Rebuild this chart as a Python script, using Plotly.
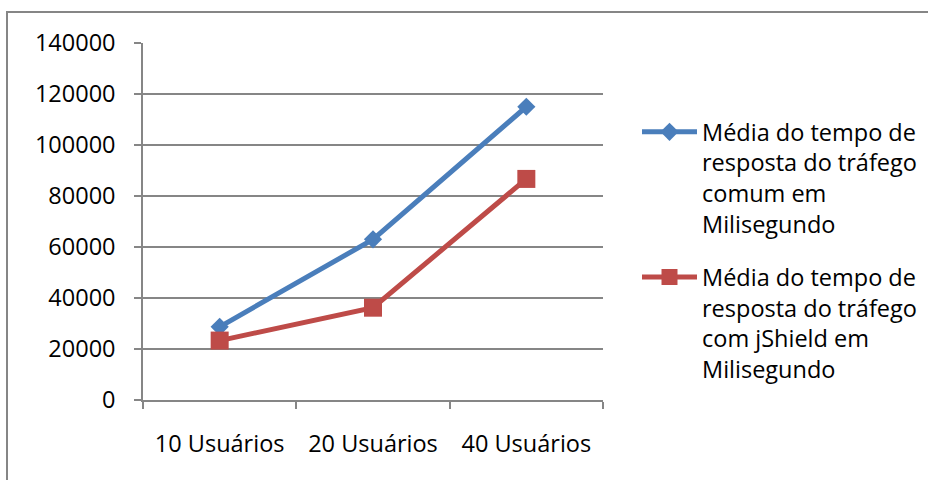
import plotly.graph_objects as go

categories = ["10 Usuários", "20 Usuários", "40 Usuários"]
comum = [28700, 63000, 115000]
jshield = [23300, 36200, 86700]
name_comum = "Média do tempo de<br>resposta do tráfego<br>comum em<br>Milisegundo"
name_jshield = "Média do tempo de<br>resposta do tráfego<br>com jShield em<br>Milisegundo"
y_ticks = [0, 20000, 40000, 60000, 80000, 100000, 120000, 140000]

FONT = "Open Sans"
FS = 23.5
GRID = "#868686"

W, H = 928, 480
L, R, T, B = 143, 325, 43, 80
pw, ph = W - L - R, H - T - B

fig = go.Figure()
fig.add_trace(go.Scatter(
    x=categories, y=comum, name=name_comum, mode="lines+markers",
    line=dict(color="#4A7EBB", width=5),
    marker=dict(symbol="diamond", size=14, color="#4A7EBB"),
    legendgroup="a",
))
fig.add_trace(go.Scatter(
    x=categories, y=jshield, name=name_jshield, mode="lines+markers",
    line=dict(color="#BE4B48", width=5),
    marker=dict(symbol="square", size=18, color="#BE4B48"),
    legendgroup="b",
))

def px_x(p):
    return (p - L) / pw

def px_y(p):
    return (H - B - p) / ph

fig.update_layout(
    width=W, height=H,
    margin=dict(l=L, r=R, t=T, b=B, autoexpand=False),
    paper_bgcolor="white", plot_bgcolor="white",
    font=dict(family=FONT, size=FS, color="#000000"),
    showlegend=True,
    legend=dict(
        x=px_x(637), y=px_y(110), xanchor="left", yanchor="top",
        font=dict(family=FONT, size=FS, color="#000000"),
        valign="top", tracegroupgap=20, bgcolor="rgba(0,0,0,0)",
        itemwidth=55,
    ),
    xaxis=dict(
        type="category", tickson="boundaries", showgrid=False,
        showline=True, linecolor=GRID, linewidth=1.5,
        ticks="outside", ticklen=7, tickcolor=GRID, tickwidth=1.5,
        ticklabelstandoff=22, tickfont=dict(family=FONT, size=FS),
        range=[-0.5, 2.5], fixedrange=True,
    ),
    yaxis=dict(
        range=[0, 140000], tickvals=y_ticks,
        ticktext=[str(v) for v in y_ticks],
        showgrid=True, gridcolor=GRID, gridwidth=1.5,
        showline=True, linecolor=GRID, linewidth=1.5,
        ticks="outside", ticklen=7, tickcolor=GRID, tickwidth=1.5,
        ticklabelstandoff=14, tickfont=dict(family=FONT, size=FS),
        zeroline=False,
    ),
    shapes=[dict(
        type="rect", xref="paper", yref="paper",
        x0=px_x(7), x1=px_x(940), y0=px_y(495), y1=px_y(12),
        line=dict(color="#868686", width=2), fillcolor="rgba(0,0,0,0)",
        layer="below",
    )],
)

fig.write_html("out.html")
